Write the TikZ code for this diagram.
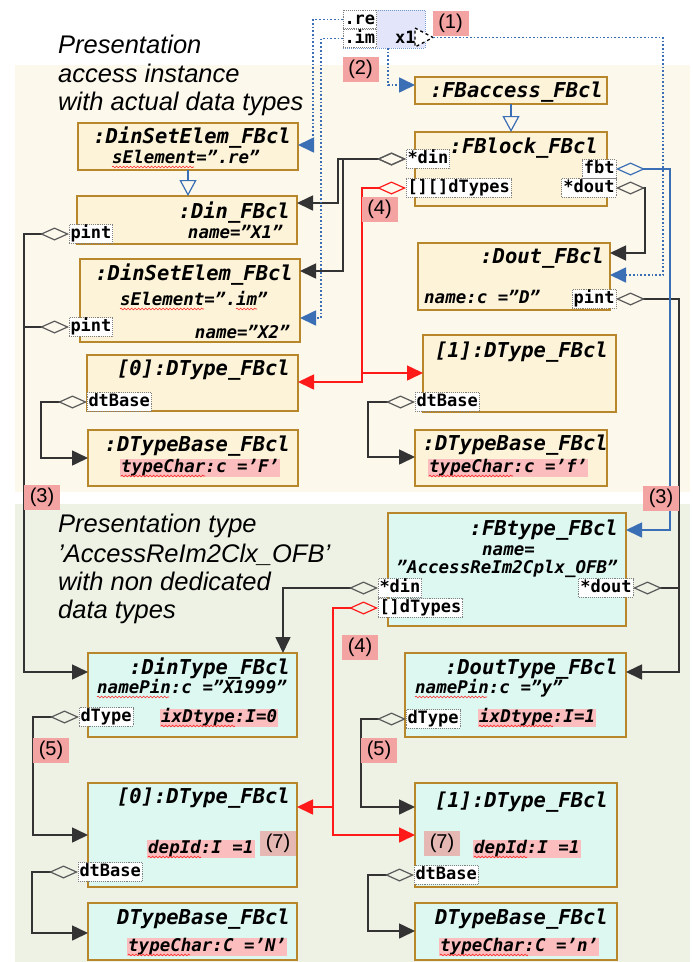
\documentclass[tikz,border=0pt]{standalone}
\usepackage{fontspec}
\setmainfont{Liberation Sans}
\newfontfamily\monof{DejaVu Sans Mono}
\usetikzlibrary{arrows.meta,decorations.pathmorphing,calc}
\definecolor{bgtop}{HTML}{FDF8EC}
\definecolor{bgbot}{HTML}{EDF2E4}
\definecolor{boxtop}{HTML}{FCF3D9}
\definecolor{boxbot}{HTML}{DCF8F1}
\definecolor{boxedge}{HTML}{B8862B}
\definecolor{tagpink}{HTML}{F4A3A3}
\definecolor{hlpink}{HTML}{FBBDBD}
\definecolor{tagseven}{HTML}{E6B8B4}
\definecolor{linkblue}{HTML}{3A6FB5}
\definecolor{pinlav}{HTML}{E3E5FA}
\definecolor{redlink}{HTML}{FF1A1A}
\tikzset{
  topbox/.style={draw=boxedge, line width=2.6pt, fill=boxtop, inner sep=0pt, outer sep=0pt, anchor=north west},
  botbox/.style={topbox, fill=boxbot},
  ttl/.style={font=\monof\bfseries\itshape\fontsize{20.5}{22}\selectfont, inner sep=0pt, anchor=base east},
  attr/.style={font=\monof\bfseries\itshape\fontsize{17.5}{19}\selectfont, inner sep=0pt, anchor=base west},
  attre/.style={attr, anchor=base east},
  hl/.style={attr, fill=hlpink, inner xsep=1pt, inner ysep=1pt, text height=12.5pt, text depth=3.5pt},
  port/.style={font=\monof\bfseries\fontsize{17}{19}\selectfont, fill=white, draw=gray, densely dotted, line width=0.9pt, inner xsep=1.5pt, inner ysep=1.5pt, text height=12.5pt, text depth=3pt, outer sep=0pt},
  tagbox/.style={fill=tagpink, font=\fontsize{20}{22}\selectfont, inner sep=0pt, minimum width=36pt, minimum height=25pt},
  captxt/.style={font=\itshape\fontsize{25.5}{28}\selectfont, inner sep=0pt, anchor=base west},
  conn/.style={draw=black!80, line width=1.6pt},
  redl/.style={draw=redlink, line width=1.6pt},
  bluel/.style={draw=linkblue, line width=1.6pt},
  bdot/.style={draw=linkblue, line width=1.7pt, dotted},
  diaarr/.style={{Diamond[open,length=29pt,width=13pt,line width=1.2pt,color=black!65]}-{Triangle[length=16pt,width=15pt]}},
  dia/.style={{Diamond[open,length=29pt,width=13pt,line width=1.2pt,color=black!65]}-},
  reddiaarr/.style={{Diamond[open,length=29pt,width=13pt,line width=1.2pt]}-{Triangle[length=16pt,width=15pt]}},
  arr/.style={-{Triangle[length=16pt,width=15pt]}},
  bluediaarr/.style={{Diamond[open,length=29pt,width=13pt,line width=1.2pt]}-{Triangle[length=16pt,width=15pt]}},
  inh/.style={draw=linkblue, line width=1.2pt, -{Triangle[open,length=16pt,width=17pt]}},
  wav/.style={draw=red!85, line width=0.6pt, decorate, decoration={snake, amplitude=0.9pt, segment length=3.5pt}},
}
\begin{document}
\begin{tikzpicture}[x=1pt,y=-1pt]
\useasboundingbox (0,0) rectangle (693,962);
\fill[white] (0,0) rectangle (693,962);
% backgrounds
\fill[bgtop] (15,65) rectangle (690,492);
\fill[bgbot] (15,504) rectangle (690,962);
% captions
\node[captxt] (c1a) at (58,53) {Presentation};
\node[captxt] (c1b) at (58,82) {access instance};
\node[captxt] (c1c) at (58,110) {with actual data types};
\node[captxt] (c2a) at (58,532) {Presentation type};
\node[captxt] (c2b) at (58,562) {’AccessReIm2Clx\_OFB’};
\node[captxt] (c2c) at (58,590) {with non dedicated};
\node[captxt] (c2d) at (58,618) {data types};
% boxes upper
\node[topbox, minimum width=192pt, minimum height=27pt] (fbaccess) at (415,77) {};
\node[topbox, minimum width=192pt, minimum height=74pt] (fblock) at (415,132) {};
\node[topbox, minimum width=220pt, minimum height=47pt] (dinsetre) at (78,123) {};
\node[topbox, minimum width=220pt, minimum height=48pt] (din) at (77,196) {};
\node[topbox, minimum width=220pt, minimum height=83pt] (dinsetim) at (80,259) {};
\node[topbox, minimum width=192pt, minimum height=67pt] (dout) at (418,243) {};
\node[topbox, minimum width=211pt, minimum height=56pt] (dtype0) at (87,355) {};
\node[topbox, minimum width=210pt, minimum height=56pt] (dtb0) at (88,430) {};
\node[topbox, minimum width=193pt, minimum height=77pt] (dtype1) at (423,335) {};
\node[topbox, minimum width=192pt, minimum height=56pt] (dtb1) at (415,430) {};
% boxes lower
\node[botbox, minimum width=238pt, minimum height=113pt] (fbtype) at (388,513) {};
\node[botbox, minimum width=209pt, minimum height=84pt] (dintype) at (88,653) {};
\node[botbox, minimum width=221pt, minimum height=84pt] (douttype) at (405,653) {};
\node[botbox, minimum width=209pt, minimum height=104pt] (dtype0b) at (88,783) {};
\node[botbox, minimum width=202pt, minimum height=104pt] (dtype1b) at (415,783) {};
\node[botbox, minimum width=209pt, minimum height=57pt] (dtb0b) at (88,903) {};
\node[botbox, minimum width=202pt, minimum height=57pt] (dtb1b) at (415,903) {};
% pin box at top
\node[draw=linkblue!70, densely dotted, line width=1pt, fill=pinlav, minimum width=82pt, minimum height=38pt, anchor=north west, inner sep=0pt, outer sep=0pt] (pinbox) at (343,10) {};
\node[port, anchor=west] (repin) at (343,19.5) {.re};
\node[port, anchor=west] (impin) at (343,38.5) {.im};
\node[font=\monof\bfseries\fontsize{17}{19}\selectfont, anchor=base west, inner sep=0pt] (x1lbl) at (395,43) {x1};
\draw[dashed, line width=1.3pt, fill=white] (415,28) -- (433,37.5) -- (415,47) -- cycle;
\coordinate (x1tip) at (433,37.5);
% texts
\node[ttl] (tfbacc) at (603,97) {:FBaccess\_FBcl};
\node[ttl] (tfblock) at (598,153) {:FBlock\_FBcl};
\node[ttl] (tdsre) at (291,143) {:DinSetElem\_FBcl};
\node[attr] (adsre) at (112,163) {sElement=”.re”};
\node[ttl] (tdin) at (290,218) {:Din\_FBcl};
\node[attre] (adin) at (283,238) {name=”X1”};
\node[ttl] (tdsim) at (293,280) {:DinSetElem\_FBcl};
\node[attr] (adsim) at (120,305) {sElement=”.im”};
\node[attre] (adsim2) at (290,338) {name=”X2”};
\node[ttl] (tdout) at (604,263) {:Dout\_FBcl};
\node[attr] (adout) at (424,303) {name:c =”D”};
\node[ttl] (tdt0) at (290,375) {[0]:DType\_FBcl};
\node[ttl] (tdtb0) at (290,451) {:DTypeBase\_FBcl};
\node[hl] (hdtb0) at (120,472) {typeChar:c =’F’};
\node[ttl] (tdt1) at (608,357) {[1]:DType\_FBcl};
\node[ttl] (tdtb1) at (608,450) {:DTypeBase\_FBcl};
\node[hl] (hdtb1) at (428,472) {typeChar:c =’f’};
\node[ttl] (tfbt) at (618,535) {:FBtype\_FBcl};
\node[attr] (afbt1) at (482,555) {name=};
\node[attre] (afbt2) at (618,573) {”AccessReIm2Cplx\_OFB”};
\node[ttl] (tdint) at (290,674) {:DinType\_FBcl};
\node[attr] (adint) at (97,693) {namePin:c =”X1999”};
\node[hl] (hdint) at (160,722) {ixDtype:I=0};
\node[ttl] (tdoutt) at (618,674) {:DoutType\_FBcl};
\node[attr] (adoutt) at (415,693) {namePin:c =”y”};
\node[hl] (hdoutt) at (478,722) {ixDtype:I=1};
\node[ttl] (tdt0b) at (290,803) {[0]:DType\_FBcl};
\node[hl] (hdt0b) at (147,853) {depId:I =1};
\node[ttl] (tdt1b) at (608,807) {[1]:DType\_FBcl};
\node[hl] (hdt1b) at (473,853) {depId:I =1};
\node[ttl] (tdtb0b) at (290,924) {DTypeBase\_FBcl};
\node[hl] (hdtb0b) at (127,951) {typeChar:C =’N’};
\node[ttl] (tdtb1b) at (608,924) {DTypeBase\_FBcl};
\node[hl] (hdtb1b) at (439,951) {typeChar:C =’n’};
% spell-check squiggles
\draw[wav] ($(adsre.base west)+(0,4)$) -- ++(82,0);
\draw[wav] ($(adsim.base west)+(0,4)$) -- ++(84,0);
\draw[wav] ($(adsim.base west)+(116,4)$) -- ++(21,0);
\draw[wav] ($(hdtb0.base west)+(1,4)$) -- ++(84,0);
\draw[wav] ($(hdtb1.base west)+(1,4)$) -- ++(84,0);
\draw[wav] ($(adint.base west)+(0,4)$) -- ++(72,0);
\draw[wav] ($(adoutt.base west)+(0,4)$) -- ++(72,0);
\draw[wav] ($(hdint.base west)+(1,4)$) -- ++(74,0);
\draw[wav] ($(hdoutt.base west)+(1,4)$) -- ++(74,0);
\draw[wav] ($(hdt0b.base west)+(1,4)$) -- ++(53,0);
\draw[wav] ($(hdt1b.base west)+(1,4)$) -- ++(53,0);
\draw[wav] ($(hdtb0b.base west)+(1,4)$) -- ++(62,0);
\draw[wav] ($(hdtb1b.base west)+(1,4)$) -- ++(88,0);
% ports
\node[port, anchor=west] (fbdin) at (406,159) {*din};
\node[port, anchor=west] (fbdt) at (406,188) {[][]dTypes};
\node[port, anchor=east] (fbfbt) at (616,169) {fbt};
\node[port, anchor=east] (fbdout) at (616,188) {*dout};
\node[port, anchor=west] (dinpint) at (69,234) {pint};
\node[port, anchor=west] (dsipint) at (69,327) {pint};
\node[port, anchor=east] (doutpint) at (616,299) {pint};
\node[port, anchor=west] (dt0base) at (87,402) {dtBase};
\node[port, anchor=west] (dt1base) at (415,402) {dtBase};
\node[port, anchor=west] (fbtdin) at (378,588) {*din};
\node[port, anchor=west] (fbtdt) at (378,608) {[]dTypes};
\node[port, anchor=east] (fbtdout) at (633,588) {*dout};
\node[port, anchor=west] (dintdt) at (79,717) {dType};
\node[port, anchor=west] (doutdt) at (406,719) {dType};
\node[port, anchor=west] (d0bb) at (78,872) {dtBase};
\node[port, anchor=west] (d1bb) at (414,875) {dtBase};
% target points
\coordinate (dinIn) at ($(din.north east)+(0,7)$);
\coordinate (dsimIn) at ($(dinsetim.north east)+(0,12)$);
\coordinate (dt0In) at ($(dtype0.north east)+(0,27)$);
\coordinate (dt1In) at ($(dtype1.north west)+(0,38)$);
\coordinate (fbtIn) at ($(fbtype.north east)+(0,17)$);
\coordinate (doutIn) at ($(dout.north east)+(0,10)$);
\coordinate (douttIn) at ($(douttype.north east)+(0,19)$);
\coordinate (dintIn) at ($(dintype.north west)+(0,19)$);
\coordinate (dtb0In) at ($(dtb0.north west)+(0,28)$);
\coordinate (dtb1In) at ($(dtb1.north west)+(0,27)$);
\coordinate (dintTop) at ($(dintype.north east)+(-14,0)$);
\coordinate (dt1bIn) at ($(dtype1b.north west)+(0,52)$);
\coordinate (dt0bIn) at ($(dtype0b.north east)+(0,24)$);
\coordinate (dt0bL) at ($(dtype0b.north west)+(0,52)$);
\coordinate (dt1bL) at ($(dtype1b.north west)+(0,24)$);
\coordinate (dtb0bIn) at ($(dtb0b.north west)+(0,30)$);
\coordinate (dtb1bIn) at ($(dtb1b.north west)+(0,28)$);
\coordinate (doutB) at ($(dout.north east)+(0,32)$);
\coordinate (dsreB) at ($(dinsetre.north east)+(0,22)$);
\coordinate (dsimB) at ($(dinsetim.north east)+(0,59)$);
\coordinate (fbaccB) at ($(fbaccess.north west)+(0,8)$);
\coordinate (pinbot) at ($(pinbox.south west)+(45,0)$);
% black connectors
\draw[conn, diaarr] (fbdin.west) -- ++(-68,0) |- (dinIn);
\draw[conn, diaarr] (fbdin.west) -- ++(-63,0) |- (dsimIn);
\draw[conn, diaarr] (fbdout.east) -- ++(29,0) |- (doutIn);
\draw[conn, diaarr] (doutpint.east) -- ++(63,0) |- (douttIn);
\draw[conn, dia] (fbtdout.east) -- ++(46,0);
\draw[conn, diaarr] (dinpint.west) -- ++(-45,0) |- (dintIn);
\draw[conn, dia] (dsipint.west) -- ++(-45,0);
\draw[conn, diaarr] (dt0base.west) -- ++(-46,0) |- (dtb0In);
\draw[conn, diaarr] (dt1base.west) -- ++(-47,0) |- (dtb1In);
\draw[conn, diaarr] (fbtdin.west) -| (dintTop);
\draw[conn, diaarr] (dintdt.west) -- ++(-46,0) |- (dt0bL);
\draw[conn, diaarr] (doutdt.west) -- ++(-45,0) |- (dt1bL);
\draw[conn, diaarr] (d0bb.west) -- ++(-46,0) |- (dtb0bIn);
\draw[conn, diaarr] (d1bb.west) -- ++(-46,0) |- (dtb1bIn);
% red connectors
\draw[redl, reddiaarr] (fbdt.west) -- ++(-44,0) coordinate (rj1) |- (dt0In);
\draw[redl, arr] (rj1 |- dt1In) -- (dt1In);
\draw[redl, reddiaarr] (fbtdt.west) -- ++(-45,0) coordinate (rj2) |- (dt1bIn);
\draw[redl, arr] (rj2 |- dt0bIn) -- (dt0bIn);
% blue connectors
\draw[bluel, bluediaarr] (fbfbt.east) -- ++(54,0) |- (fbtIn);
\draw[bdot, arr] (x1tip) -- ++(230,0) |- (doutB);
\draw[bdot, arr] (repin.west) -- ++(-30,0) |- (dsreB);
\draw[bdot, arr] (impin.west) -- ++(-22,0) |- (dsimB);
\draw[bdot, arr] (pinbot) |- (fbaccB);
\draw[inh] (dinsetre.south) -- (dinsetre.south |- din.north);
\draw[inh] (fbaccess.south) -- (fbaccess.south |- fblock.north);
% tags
\node[tagbox] (tag1) at (450.5,23) {(1)};
\node[tagbox] (tag2) at (360.5,69.5) {(2)};
\node[tagbox] (tag3a) at (42,497.5) {(3)};
\node[tagbox] (tag3b) at (661,498) {(3)};
\node[tagbox] (tag4a) at (379.5,209.5) {(4)};
\node[tagbox] (tag4b) at (360,647.5) {(4)};
\node[tagbox] (tag5a) at (51,750) {(5)};
\node[tagbox] (tag5b) at (379,750) {(5)};
\node[tagbox, fill=tagseven] (tag7a) at (278,843) {(7)};
\node[tagbox, fill=tagseven] (tag7b) at (442,843.5) {(7)};
\end{tikzpicture}
\end{document}
